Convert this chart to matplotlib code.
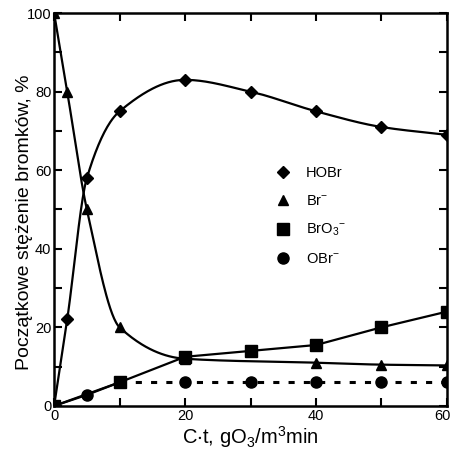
import numpy as np
import matplotlib
matplotlib.use("Agg")
import matplotlib.pyplot as plt
import matplotlib.transforms as mtransforms

plt.rcParams['font.family'] = ['Liberation Sans Narrow', 'Liberation Sans', 'DejaVu Sans']
plt.rcParams['mathtext.default'] = 'regular'

# data
ct_hobr = [0, 2, 5, 10, 20, 30, 40, 50, 60]
hobr = [0, 22, 58, 75, 83, 80, 75, 71, 69]

ct_br = [0, 2, 5, 10, 20, 40, 50, 60]
br = [100, 80, 50, 20, 12, 11, 10.5, 10.3]

ct_bro3 = [0, 10, 20, 30, 40, 50, 60]
bro3 = [0, 6, 12.5, 14, 15.5, 20, 24]

ct_obr = [0, 5, 10, 20, 30, 40, 50, 60]
obr = [0, 2.8, 6, 6, 6, 6, 6, 6]

labels = ['HOBr', r'Br$^{-}$', r'BrO$_3$$^{-}$', r'OBr$^{-}$']


def pchip(x, y, n=400):
    # monotone cubic interpolation, only used to smooth the drawn curves
    x = np.asarray(x, float)
    y = np.asarray(y, float)
    h = np.diff(x)
    d = np.diff(y) / h
    m = np.zeros_like(y)
    for k in range(1, len(x) - 1):
        if d[k - 1] * d[k] > 0:
            w1 = 2 * h[k] + h[k - 1]
            w2 = h[k] + 2 * h[k - 1]
            m[k] = (w1 + w2) / (w1 / d[k - 1] + w2 / d[k])
    m[0] = d[0]
    m[-1] = d[-1]
    xs = np.linspace(x[0], x[-1], n)
    idx = np.clip(np.searchsorted(x, xs) - 1, 0, len(x) - 2)
    t = (xs - x[idx]) / h[idx]
    h00 = 2 * t**3 - 3 * t**2 + 1
    h10 = t**3 - 2 * t**2 + t
    h01 = -2 * t**3 + 3 * t**2
    h11 = t**3 - t**2
    ys = (h00 * y[idx] + h10 * h[idx] * m[idx] + h01 * y[idx + 1]
          + h11 * h[idx] * m[idx + 1])
    return xs, ys


fig = plt.figure(figsize=(4.51, 4.51), dpi=100)
ax = fig.add_axes([0.12, 0.1, 0.871, 0.871])

lw = 1.6
ms = 7

xs, ys = pchip(ct_hobr, hobr)
ax.plot(xs, ys, color='black', lw=lw)
ax.plot(ct_hobr, hobr, 'D', color='black', ms=ms - 1, label=labels[0])

xs, ys = pchip(ct_br, br)
ax.plot(xs, ys, color='black', lw=lw)
ax.plot(ct_br, br, '^', color='black', ms=ms, label=labels[1])

ax.plot(ct_bro3, bro3, color='black', lw=lw)
ax.plot(ct_bro3, bro3, 's', color='black', ms=ms + 1, label=labels[2])

ax.plot(ct_obr[:3], obr[:3], color='black', lw=lw)
ax.plot(ct_obr[2:], obr[2:], color='black', lw=2.2, ls=(0, (2, 3)))
ax.plot(ct_obr, obr, 'o', color='black', ms=ms + 1, label=labels[3])

ax.set_xlim(0, 60)
ax.set_ylim(0, 100)
ax.set_xticks(np.arange(0, 61, 10))
ax.set_xticklabels([str(v) if v % 20 == 0 else '' for v in range(0, 61, 10)])
ax.set_yticks(np.arange(0, 101, 10))
ax.set_yticklabels([str(v) if v % 20 == 0 else '' for v in range(0, 101, 10)])
ax.tick_params(direction='in', length=6, width=1.5, labelsize=10.5,
               top=True, right=True, pad=2)
for s in ax.spines.values():
    s.set_linewidth(1.8)

# keep the last x label inside the canvas
last = ax.get_xticklabels()[-1]
last.set_ha('right')
last.set_transform(last.get_transform() +
                   mtransforms.ScaledTranslation(3 / 72, 0, fig.dpi_scale_trans))

ax.set_xlabel(r'C$\cdot$t, gO$_3$/m$^3$min', fontsize=14.5, labelpad=1,
              family=['Liberation Sans', 'DejaVu Sans'])
ax.set_ylabel('Początkowe stężenie bromków, %', fontsize=14,
              family=['Liberation Sans', 'DejaVu Sans'])
ax.yaxis.set_label_coords(-0.055, 0.468)

leg = ax.legend(loc='upper left', bbox_to_anchor=(0.56, 0.61), frameon=False,
                borderpad=0, borderaxespad=0, handletextpad=1.0,
                labelspacing=0.95, handlelength=1.2,
                prop={'family': ['Liberation Sans', 'DejaVu Sans'], 'size': 10.5})

fig.savefig('out.png', dpi=100)
